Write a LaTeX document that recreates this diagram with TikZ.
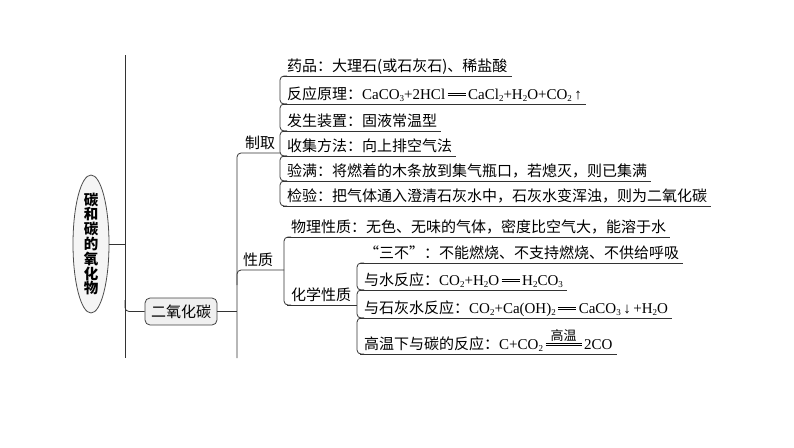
\documentclass[tikz,border=0pt]{standalone}
\usepackage{fontspec}
\setmainfont{Noto Sans CJK SC}
\newfontfamily\lat{Liberation Serif}
\usetikzlibrary{shapes.geometric}
\newcommand\fs{\fontsize{15}{18}\selectfont}
\newcommand\chsub[1]{\raisebox{-0.28ex}{\fontsize{9}{9}\selectfont #1}}
\newcommand\dbleq[1][1.2em]{\mbox{\rlap{\raisebox{0.40em}{\rule{#1}{0.55pt}}}\raisebox{0.22em}{\rule{#1}{0.55pt}}}}
\newcommand\gaowen{\mbox{\rlap{\raisebox{0.62em}{\makebox[2.4em]{\rmfamily\fontsize{13}{13}\selectfont 高温}}}\dbleq[2.4em]}}
\begin{document}
\begin{tikzpicture}[x=1pt,y=-1pt,
  ln/.style={draw=black!80, line width=0.8pt},
  br/.style={ln, rounded corners=4pt},
  item/.style={anchor=south west, inner xsep=4pt, inner ysep=0pt, text height=11pt, text depth=4.5pt, font=\fs},
  cat/.style={anchor=south, inner xsep=0pt, inner ysep=0pt, text height=11pt, text depth=4.5pt, font=\fs}]
\useasboundingbox (0,0) rectangle (794,447);

\coordinate (rvt) at (125,55);
\coordinate (rvb) at (125,358);
\coordinate (r2) at (125,300);
\coordinate (v2t) at (237,153);
\coordinate (v2b) at (237,358);
\coordinate (v2m) at (237,285);

% root
\node[ellipse, draw=black!70, fill=gray!8, line width=0.8pt, minimum width=36pt, minimum height=138pt, inner sep=0pt] (root) at (91,244) {};
\node[font=\fontsize{14.5}{14.8}\selectfont\bfseries, align=center, inner sep=0pt] (roott) at (root.center) {碳\\和\\碳\\的\\氧\\化\\物};

\node[draw=black!75, line width=0.8pt, fill=gray!12, rounded corners=5pt, minimum width=72pt, minimum height=27pt, inner sep=0pt, font=\fs] (co2) at (181,311.5) {二氧化碳};

\draw[ln] (rvt) -- (rvb);
\draw[ln] (root.east) -- (root.east -| rvt);
\draw[br] (r2) -- (rvt |- co2.west) -- (co2.west);
\draw[ln] (co2.east) -- (co2.east -| v2t);

% 制取
\node[item] (d1) at (283,76) {药品：大理石(或石灰石)、稀盐酸};
\node[item] (d2) at (283,104) {反应原理：{\lat CaCO\chsub{3}+2HCl\,\dbleq\,CaCl\chsub{2}+H\chsub{2}O+CO\chsub{2}\,↑}};
\node[item] (d3) at (283,131) {发生装置：固液常温型};
\node[item] (d4) at (283,156) {收集方法：向上排空气法};
\node[item] (d5) at (283,181) {验满：将燃着的木条放到集气瓶口，若熄灭，则已集满};
\node[item] (d6) at (283,206) {检验：把气体通入澄清石灰水中，石灰水变浑浊，则为二氧化碳};
\node[cat] (zq) at (260,153) {制取};
\draw[br] ([xshift=-3pt]d1.south west |- zq.south) -- (v2t) -- (v2b);

% 性质
\node[cat] (xz) at (258,270) {性质};
\node[item] (p1) at (287,237) {物理性质：无色、无味的气体，密度比空气大，能溶于水};
\node[item] (hx) at (287,305) {化学性质};
\draw[br] ([xshift=-3pt]p1.south west |- xz.south) -- (v2t |- xz.south) -- (v2m);

\node[item] (c1) at (360,263) {“三不”：不能燃烧、不支持燃烧、不供给呼吸};
\node[item] (c2) at (360,290) {与水反应：{\lat CO\chsub{2}+H\chsub{2}O\,\dbleq\,H\chsub{2}CO\chsub{3}}};
\node[item] (c3) at (360,318) {与石灰水反应：{\lat CO\chsub{2}+Ca(OH)\chsub{2}\,\dbleq\,CaCO\chsub{3}\,↓\,+H\chsub{2}O}};
\node[item] (c4) at (360,354) {高温下与碳的反应：{\lat C+CO\chsub{2}\,\gaowen\,2CO}};
\draw[ln] (hx.south east) -- ([xshift=-3pt]c1.south west |- hx.south);

% underlines
\foreach \n in {d1,d2,d3,d4,d5,d6,p1,hx,c1,c2,c3,c4}
  \draw[ln] (\n.south west) -- (\n.south east);
% brackets
\foreach \a/\b in {d1/d2,d2/d3,d3/d4,d4/d5,d5/d6,p1/hx,c1/c2,c2/c3,c3/c4}
  \draw[br] ([xshift=4pt]\a.south west) -- ([xshift=-3pt]\a.south west) -- ([xshift=-3pt]\b.south west) -- ([xshift=4pt]\b.south west);
\end{tikzpicture}
\end{document}
